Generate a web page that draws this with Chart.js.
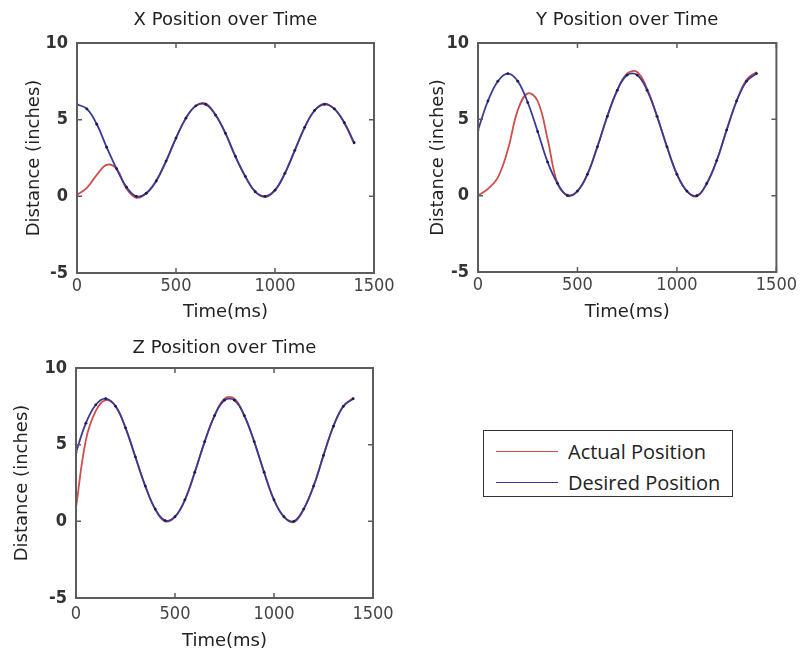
<!DOCTYPE html>
<html>
<head>
<meta charset="utf-8">
<script src="https://cdn.jsdelivr.net/npm/chart.js@4.4.0/dist/chart.umd.min.js"></script>
<style>
  html, body { margin: 0; padding: 0; background: #fff; }
  body { width: 800px; height: 655px; position: relative; overflow: hidden; }
  .panel { position: absolute; }
  .legend {
    position: absolute; left: 483px; top: 430px; width: 248px; height: 65px;
    border: 1.5px solid #333; background: #fff;
    font-family: 'Open Sans', 'Liberation Sans', sans-serif; font-size: 20px; color: #222;
  }
  .legend .row { position: absolute; left: 0; height: 24px; display: flex; align-items: center; white-space: nowrap; }
  .legend .swatch { width: 62px; height: 0; border-top: 1.5px solid; margin-left: 12px; margin-right: 10px; }
</style>
</head>
<body>
<div class="panel" style="left:0;top:0"><canvas id="xChart" width="400" height="330"></canvas></div>
<div class="panel" style="left:400px;top:0"><canvas id="yChart" width="400" height="330"></canvas></div>
<div class="panel" style="left:0;top:330px"><canvas id="zChart" width="400" height="325"></canvas></div>
<div class="legend">
  <div class="row" style="top:8px"><span class="swatch" style="border-color:#cf4d4d"></span>Actual Position</div>
  <div class="row" style="top:39px"><span class="swatch" style="border-color:#3a3a96"></span>Desired Position</div>
</div>
<script>
// sample times (ms)
const timeMs = [0, 50, 100, 150, 200, 250, 300, 350, 400, 450, 500, 550, 600, 650, 700,
                750, 800, 850, 900, 950, 1000, 1050, 1100, 1150, 1200, 1250, 1300, 1350, 1400];

// position in inches
const xDesired = [6.0, 5.7, 4.7, 3.2, 1.8, 0.6, 0.0, 0.2, 1.0, 2.3, 3.8, 5.1, 5.9, 6.0, 5.3,
                  4.1, 2.6, 1.3, 0.3, 0.0, 0.4, 1.5, 3.0, 4.5, 5.6, 6.0, 5.7, 4.8, 3.5];
const xActual  = [0.1, 0.55, 1.4, 2.05, 1.8, 0.5, -0.1, 0.2, 1.0, 2.3, 3.8, 5.1, 5.9, 6.05, 5.3,
                  4.1, 2.6, 1.3, 0.3, -0.05, 0.4, 1.5, 3.0, 4.5, 5.6, 6.05, 5.7, 4.8, 3.4];

const yDesired = [4.3, 6.2, 7.5, 8.0, 7.5, 6.1, 4.2, 2.2, 0.8, 0.0, 0.3, 1.4, 3.2, 5.2, 6.9,
                  7.9, 7.9, 6.9, 5.2, 3.2, 1.4, 0.3, 0.0, 0.8, 2.3, 4.3, 6.2, 7.5, 8.0];
const yActual  = [0.0, 0.45, 1.2, 3.0, 5.6, 6.7, 6.2, 3.7, 0.8, 0.05, 0.3, 1.4, 3.2, 5.2, 6.9,
                  8.0, 8.1, 7.0, 5.2, 3.2, 1.4, 0.3, -0.05, 0.8, 2.3, 4.3, 6.2, 7.6, 8.1];

const zDesired = [4.5, 6.4, 7.6, 8.0, 7.5, 6.1, 4.2, 2.3, 0.8, 0.05, 0.3, 1.4, 3.2, 5.2, 6.9,
                  7.9, 7.9, 6.9, 5.2, 3.2, 1.4, 0.3, 0.0, 0.8, 2.3, 4.3, 6.2, 7.5, 8.0];
const zActual  = [0.9, 5.3, 7.2, 7.9, 7.5, 6.1, 4.2, 2.3, 0.8, 0.0, 0.3, 1.4, 3.2, 5.2, 6.9,
                  8.0, 8.0, 6.9, 5.2, 3.2, 1.4, 0.3, -0.05, 0.8, 2.3, 4.3, 6.2, 7.5, 8.05];

const timeTicks = [0, 500, 1000, 1500];
const distTicks = [-5, 0, 5, 10];

const textFont = "'DejaVu Sans', sans-serif";
const tickFont = "'Liberation Sans Narrow', 'DejaVu Sans Condensed', 'Liberation Sans', sans-serif";

// frame around the plot area with inward tick marks on every side
const axesBox = {
  id: 'axesBox',
  afterDatasetsDraw(chart) {
    const { ctx, chartArea: a, scales: { x, y } } = chart;
    ctx.save();
    ctx.strokeStyle = '#5c5c5c';
    ctx.lineWidth = 1.5;
    ctx.beginPath();
    x.ticks.forEach(t => {
      const px = x.getPixelForValue(t.value);
      ctx.moveTo(px, a.bottom); ctx.lineTo(px, a.bottom - 5);
      ctx.moveTo(px, a.top); ctx.lineTo(px, a.top + 5);
    });
    y.ticks.forEach(t => {
      const py = y.getPixelForValue(t.value);
      ctx.moveTo(a.left, py); ctx.lineTo(a.left + 5, py);
      ctx.moveTo(a.right, py); ctx.lineTo(a.right - 5, py);
    });
    ctx.stroke();
    ctx.lineWidth = 2;
    ctx.strokeRect(a.left, a.top, a.right - a.left, a.bottom - a.top);
    ctx.restore();
  }
};

const toPoints = vals => vals.map((v, i) => ({ x: timeMs[i], y: v }));

function makePanel(id, title, desired, actual, box) {
  return new Chart(document.getElementById(id), {
    type: 'line',
    data: {
      datasets: [{
        label: 'Desired Position',
        data: toPoints(desired),
        borderColor: '#3a3a96',
        borderWidth: 1.8,
        pointRadius: 1.4,
        pointBorderWidth: 0,
        pointBackgroundColor: '#1d1d4a',
        tension: 0.4
      }, {
        label: 'Actual Position',
        data: toPoints(actual),
        borderColor: '#cf4d4d',
        borderWidth: 1.8,
        pointRadius: 0,
        tension: 0.4
      }]
    },
    options: {
      responsive: false,
      animation: false,
      layout: { padding: { left: 0, top: 0, right: box.padRight, bottom: 0 } },
      plugins: {
        legend: { display: false },
        tooltip: { enabled: false },
        title: {
          display: true,
          text: title,
          fullSize: false,
          color: '#222',
          font: { family: textFont, size: 18, weight: 'normal', lineHeight: 1.2 },
          padding: { top: box.titleTop, bottom: box.titleBottom }
        }
      },
      scales: {
        x: {
          type: 'linear',
          min: 0, max: 1500,
          afterBuildTicks: s => { s.ticks = timeTicks.map(v => ({ value: v })); },
          afterFit: s => { s.height = box.xHeight; },
          grid: { display: false, drawTicks: false },
          border: { display: false },
          ticks: {
            padding: box.xTickPad,
            color: '#444',
            font: { family: tickFont, size: 18 },
            callback: v => String(v)
          },
          title: {
            display: true,
            text: 'Time(ms)',
            color: '#222',
            font: { family: textFont, size: 18, lineHeight: 1.2 },
            padding: { bottom: box.xTitlePad }
          }
        },
        y: {
          type: 'linear',
          min: -5, max: 10,
          afterBuildTicks: s => { s.ticks = distTicks.map(v => ({ value: v })); },
          afterFit: s => { s.width = box.yWidth; },
          grid: { display: false, drawTicks: false },
          border: { display: false },
          ticks: {
            padding: 9,
            color: '#333',
            font: { family: tickFont, size: 18, weight: 'bold' },
            callback: v => String(v)
          },
          title: {
            display: true,
            text: 'Distance (inches)',
            color: '#222',
            font: { family: textFont, size: 18, lineHeight: 1.2 },
            padding: { top: box.yTitlePad }
          }
        }
      }
    },
    plugins: [axesBox]
  });
}

makePanel('xChart', 'X Position over Time', xDesired, xActual,
  { yWidth: 77, xHeight: 57, padRight: 26, titleTop: 9.2, titleBottom: 12.2, yTitlePad: 24, xTitlePad: 7, xTickPad: 3 });
makePanel('yChart', 'Y Position over Time', yDesired, yActual,
  { yWidth: 78, xHeight: 58, padRight: 22, titleTop: 9.2, titleBottom: 12.2, yTitlePad: 28, xTitlePad: 7, xTickPad: 3 });
makePanel('zChart', 'Z Position over Time', zDesired, zActual,
  { yWidth: 76, xHeight: 57, padRight: 27, titleTop: 7.2, titleBottom: 9.2, yTitlePad: 12, xTitlePad: 3, xTickPad: 6 });
</script>
</body>
</html>
